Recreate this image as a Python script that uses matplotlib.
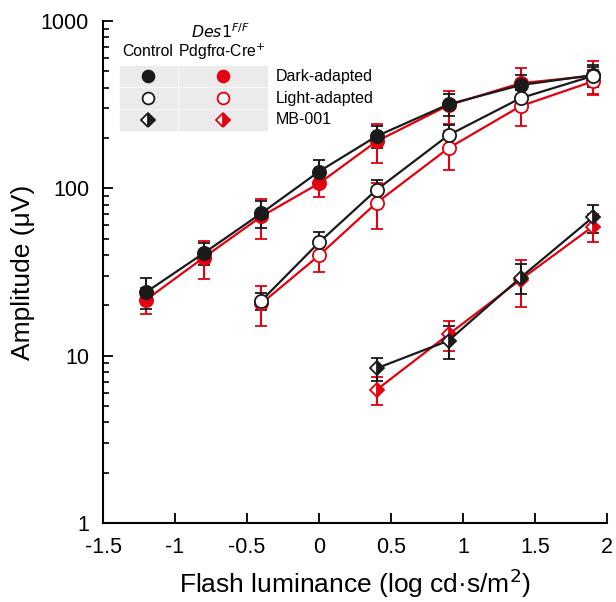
import numpy as np
import matplotlib
matplotlib.use('Agg')
import matplotlib.pyplot as plt
from matplotlib.patches import Rectangle
from matplotlib.lines import Line2D

plt.rcParams['font.family'] = ['Liberation Sans', 'DejaVu Sans']

# ── Datos ─────────────────────────────────────────────────────────────────────
x_dark = [-1.2, -0.8, -0.4, 0.0, 0.4, 0.9, 1.4, 1.9]
x_light = [-0.4, 0.0, 0.4, 0.9, 1.4, 1.9]
x_mb = [0.4, 0.9, 1.4, 1.9]

dark_ctrl = [24, 41, 71, 126, 205, 318, 414, 475]
dark_ctrl_err = [5, 6, 13, 21, 30, 47, 60, 70]
dark_ko = [21.6, 38.6, 68, 107, 191, 314, 425, 470]
dark_ko_err = [3.8, 10, 18, 18, 50, 70, 100, 105]

light_ctrl = [21.3, 47.5, 98, 208, 346, 469]
light_ctrl_err = [2.5, 7.5, 14, 30, 40, 60]
light_ko = [20.5, 39.7, 82, 174, 310, 435]
light_ko_err = [5.5, 8, 25, 45, 75, 75]

mb_ctrl = [8.4, 12.3, 29.3, 67]
mb_ctrl_err = [1.3, 2.7, 6, 13]
mb_ko = [6.25, 13.4, 28.5, 59]
mb_ko_err = [1.2, 2.8, 9, 11]

ROJO = '#e3000f'
NEGRO = '#1a1a1a'

# ── Figura ────────────────────────────────────────────────────────────────────
fig = plt.figure(figsize=(6.16, 6.02), dpi=100)
ax = fig.add_axes([103 / 616, 1 - 523 / 602, 504 / 616, 502 / 602])

def estilo(color, tipo):
    # devuelve mfc y fillstyle para cada tipo de marcador
    if tipo == 'lleno':
        return color, 'full'
    if tipo == 'abierto':
        return 'white', 'full'
    return color, 'right'

def serie(x, y, err, color, marker, tipo, ms):
    mfc, fill = estilo(color, tipo)
    ax.errorbar(x, y, yerr=err, color=color, lw=1.6, elinewidth=1.5,
                capsize=4, capthick=1.5, marker=marker, ms=ms,
                mec=color, mfc=mfc, mew=1.3, fillstyle=fill,
                markerfacecoloralt='white', zorder=3)

# rojos (KO) primero, negros (control) encima
serie(x_dark, dark_ko, dark_ko_err, ROJO, 'o', 'lleno', 9.5)
serie(x_light, light_ko, light_ko_err, ROJO, 'o', 'abierto', 9.5)
serie(x_mb, mb_ko, mb_ko_err, ROJO, 'D', 'medio', 7.5)
serie(x_dark, dark_ctrl, dark_ctrl_err, NEGRO, 'o', 'lleno', 9.5)
serie(x_light, light_ctrl, light_ctrl_err, NEGRO, 'o', 'abierto', 9.5)
serie(x_mb, mb_ctrl, mb_ctrl_err, NEGRO, 'D', 'medio', 7.5)

# Ejes
ax.set_yscale('log')
ax.set_ylim(1, 1000)
ax.set_xlim(-1.5, 2)
ax.set_xticks([-1.5, -1, -0.5, 0, 0.5, 1, 1.5, 2])
ax.set_xticklabels(['-1.5', '-1', '-0.5', '0', '0.5', '1', '1.5', '2'])
ax.set_yticks([1, 10, 100, 1000])
ax.set_yticklabels(['1', '10', '100', '1000'])
for s in ['top', 'right']:
    ax.spines[s].set_visible(False)
for s in ['left', 'bottom']:
    ax.spines[s].set_linewidth(1.5)
ax.tick_params(axis='both', which='major', direction='in', length=7,
               width=1.3, labelsize=15.5, pad=10)
ax.tick_params(axis='y', which='minor', direction='in', length=4, width=1.2)
ax.tick_params(axis='x', which='minor', length=0)
ax.set_xlabel('Flash luminance (log cd·s/m$^2$)', fontsize=19, labelpad=6)
ax.set_ylabel('Amplitude (μV)', fontsize=19, labelpad=4)

# ── Leyenda en forma de tabla ─────────────────────────────────────────────────
def fx(px):
    return px / 616

def fy(py):
    return 1 - py / 602

filas = [76, 98, 120]
etiquetas = ['Dark-adapted', 'Light-adapted', 'MB-001']
estilos = [('o', 'lleno', 8.5), ('o', 'abierto', 8.5), ('D', 'medio', 7)]
for fila, etiqueta, (mk, tipo, ms) in zip(filas, etiquetas, estilos):
    for x0, x1 in [(120, 177), (179, 267)]:
        fig.patches.append(Rectangle((fx(x0), fy(fila + 10)), fx(x1 - x0),
                                     (20 / 602), transform=fig.transFigure,
                                     color='#ebebeb', zorder=1))
    for xc, color in [(148, NEGRO), (223, ROJO)]:
        mfc, fill = estilo(color, tipo)
        fig.lines.append(Line2D([fx(xc)], [fy(fila)], marker=mk, ms=ms,
                                mec=color, mfc=mfc, mew=1.3, fillstyle=fill,
                                markerfacecoloralt='white', color=color,
                                transform=fig.transFigure, zorder=2))
    fig.text(fx(276), fy(fila), etiqueta, fontsize=11.5, va='center',
             ha='left')

fig.text(fx(148), fy(52), 'Control', fontsize=11.3, ha='center', va='center')
fig.text(fx(222), fy(52), 'Pdgfrα-Cre$^{+}$', fontsize=11.3, ha='center',
         va='center')
fig.text(fx(220), fy(32), '$\\it{Des1}^{\\it{F/F}}$', fontsize=11.3,
         ha='center', va='center')

plt.savefig('out.png', dpi=100)
